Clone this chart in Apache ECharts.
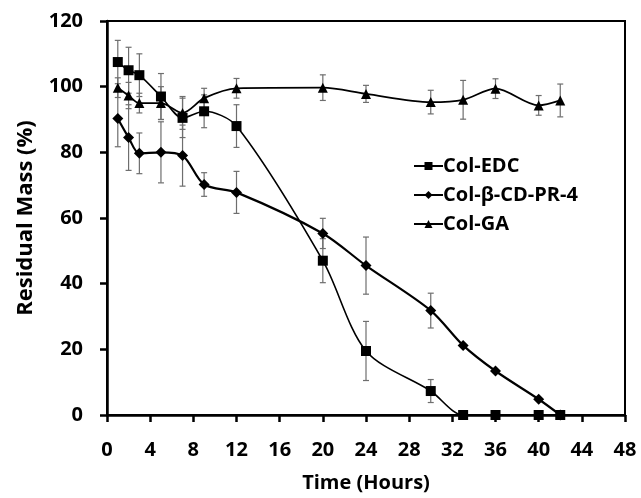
<!DOCTYPE html>
<html>
<head>
<meta charset="utf-8">
<script src="https://cdn.jsdelivr.net/npm/echarts@6/dist/echarts.min.js"></script>
<style>
  html, body { margin: 0; padding: 0; background: #fff; }
  #chart { width: 641px; height: 498px; }
</style>
</head>
<body>
<div id="chart"></div>
<script>
// hours sampled
const edcHours = [1, 2, 3, 5, 7, 9, 12, 20, 24, 30, 33, 36, 40, 42];
const edcMass = [107.5, 105, 103.5, 97, 90.5, 92.5, 88, 47, 19.5, 7.3, 0, 0, 0, 0];
const edcErr = [6.6, 7, 6.5, 7, 6, 5, 6.5, 6.7, 9, 3.5, 0, 0, 0, 0];

const cdHours = [1, 2, 3, 5, 7, 9, 12, 20, 24, 30, 33, 36, 40, 42];
const cdMass = [90.3, 84.5, 79.7, 80, 79, 70.2, 67.8, 55.3, 45.5, 31.8, 21.2, 13.4, 4.8, 0];
const cdErr = [8.6, 10, 6.2, 9.3, 9.3, 3.6, 6.4, 4.6, 8.7, 5.3, 0, 0, 0, 0];

const gaHours = [1, 2, 3, 5, 7, 9, 12, 20, 24, 30, 33, 36, 40, 42];
const gaMass = [99.7, 97.3, 95, 95, 92, 96.5, 99.5, 99.7, 97.8, 95.3, 96, 99.4, 94.3, 95.8];
const gaErr = [3, 4, 3, 5, 5, 3, 3, 3.9, 2.6, 3.6, 5.9, 3, 3, 5];

const xTicks = [0, 4, 8, 12, 16, 20, 24, 28, 32, 36, 40, 44, 48];
const yTicks = [0, 20, 40, 60, 80, 100, 120];

const font = '"Open Sans", "Liberation Sans", sans-serif';

function pairs(xs, ys) {
  return xs.map((x, i) => [x, ys[i]]);
}

function errData(xs, ys, es) {
  return xs.map((x, i) => [x, ys[i] - es[i], ys[i] + es[i]]).filter((d, i) => es[i] > 0);
}

function errSeries(data) {
  return {
    type: 'custom',
    silent: true,
    z: 1,
    data: data,
    renderItem: function (params, api) {
      const lo = api.coord([api.value(0), api.value(1)]);
      const hi = api.coord([api.value(0), api.value(2)]);
      const cap = 3;
      const style = { stroke: '#6e6e6e', lineWidth: 1.2 };
      return {
        type: 'group',
        children: [
          { type: 'line', shape: { x1: lo[0], y1: lo[1], x2: hi[0], y2: hi[1] }, style: style },
          { type: 'line', shape: { x1: lo[0] - cap, y1: lo[1], x2: lo[0] + cap, y2: lo[1] }, style: style },
          { type: 'line', shape: { x1: hi[0] - cap, y1: hi[1], x2: hi[0] + cap, y2: hi[1] }, style: style },
        ],
      };
    },
  };
}

function lineSeries(name, data, symbol, size, width) {
  return {
    name: name,
    type: 'line',
    data: data,
    smooth: 0.3,
    symbol: symbol,
    symbolSize: size,
    z: 3,
    itemStyle: { color: '#000' },
    lineStyle: { color: '#000', width: width },
  };
}

const chart = echarts.init(document.getElementById('chart'));
chart.setOption({
  animation: false,
  backgroundColor: '#fff',
  grid: {
    left: 107,
    right: 16,
    top: 21,
    bottom: 81,
    show: true,
    borderColor: '#000',
    borderWidth: 2,
  },
  legend: {
    orient: 'vertical',
    left: 408,
    top: 151,
    itemGap: 9,
    itemWidth: 29,
    itemHeight: 10,
    data: ['Col-EDC', 'Col-β-CD-PR-4', 'Col-GA'],
    textStyle: { fontFamily: font, fontWeight: 'bold', fontSize: 20, color: '#000', padding: [0, 0, 0, -5] },
  },
  xAxis: {
    type: 'value',
    min: 0,
    max: 48,
    interval: 4,
    name: 'Time (Hours)',
    nameLocation: 'middle',
    nameGap: 58,
    nameTextStyle: { fontFamily: font, fontWeight: 'bold', fontSize: 20, color: '#000' },
    axisLine: { show: true, lineStyle: { color: '#000', width: 2.5 } },
    axisTick: { show: true, length: 7, lineStyle: { color: '#000', width: 2.5 } },
    axisLabel: {
      fontFamily: font, fontWeight: 'bold', fontSize: 20, color: '#000', margin: 25,
      formatter: (v) => (xTicks.includes(v) ? String(v) : ''),
    },
    splitLine: { show: false },
  },
  yAxis: {
    type: 'value',
    min: 0,
    max: 120,
    interval: 20,
    name: 'Residual Mass (%)',
    nameLocation: 'middle',
    nameGap: 70,
    nameTextStyle: { fontFamily: font, fontWeight: 'bold', fontSize: 22, color: '#000' },
    axisLine: { show: true, lineStyle: { color: '#000', width: 2.5 } },
    axisTick: { show: true, length: 7, lineStyle: { color: '#000', width: 2.5 } },
    axisLabel: {
      fontFamily: font, fontWeight: 'bold', fontSize: 20, color: '#000', margin: 24,
      formatter: (v) => (yTicks.includes(v) ? String(v) : ''),
    },
    splitLine: { show: false },
  },
  series: [
    errSeries(errData(edcHours, edcMass, edcErr)),
    errSeries(errData(cdHours, cdMass, cdErr)),
    errSeries(errData(gaHours, gaMass, gaErr)),
    lineSeries('Col-EDC', pairs(edcHours, edcMass), 'rect', 10, 1.6),
    lineSeries('Col-β-CD-PR-4', pairs(cdHours, cdMass), 'diamond', 11, 2.2),
    lineSeries('Col-GA', pairs(gaHours, gaMass), 'triangle', 10, 1.8),
  ],
});
</script>
</body>
</html>
